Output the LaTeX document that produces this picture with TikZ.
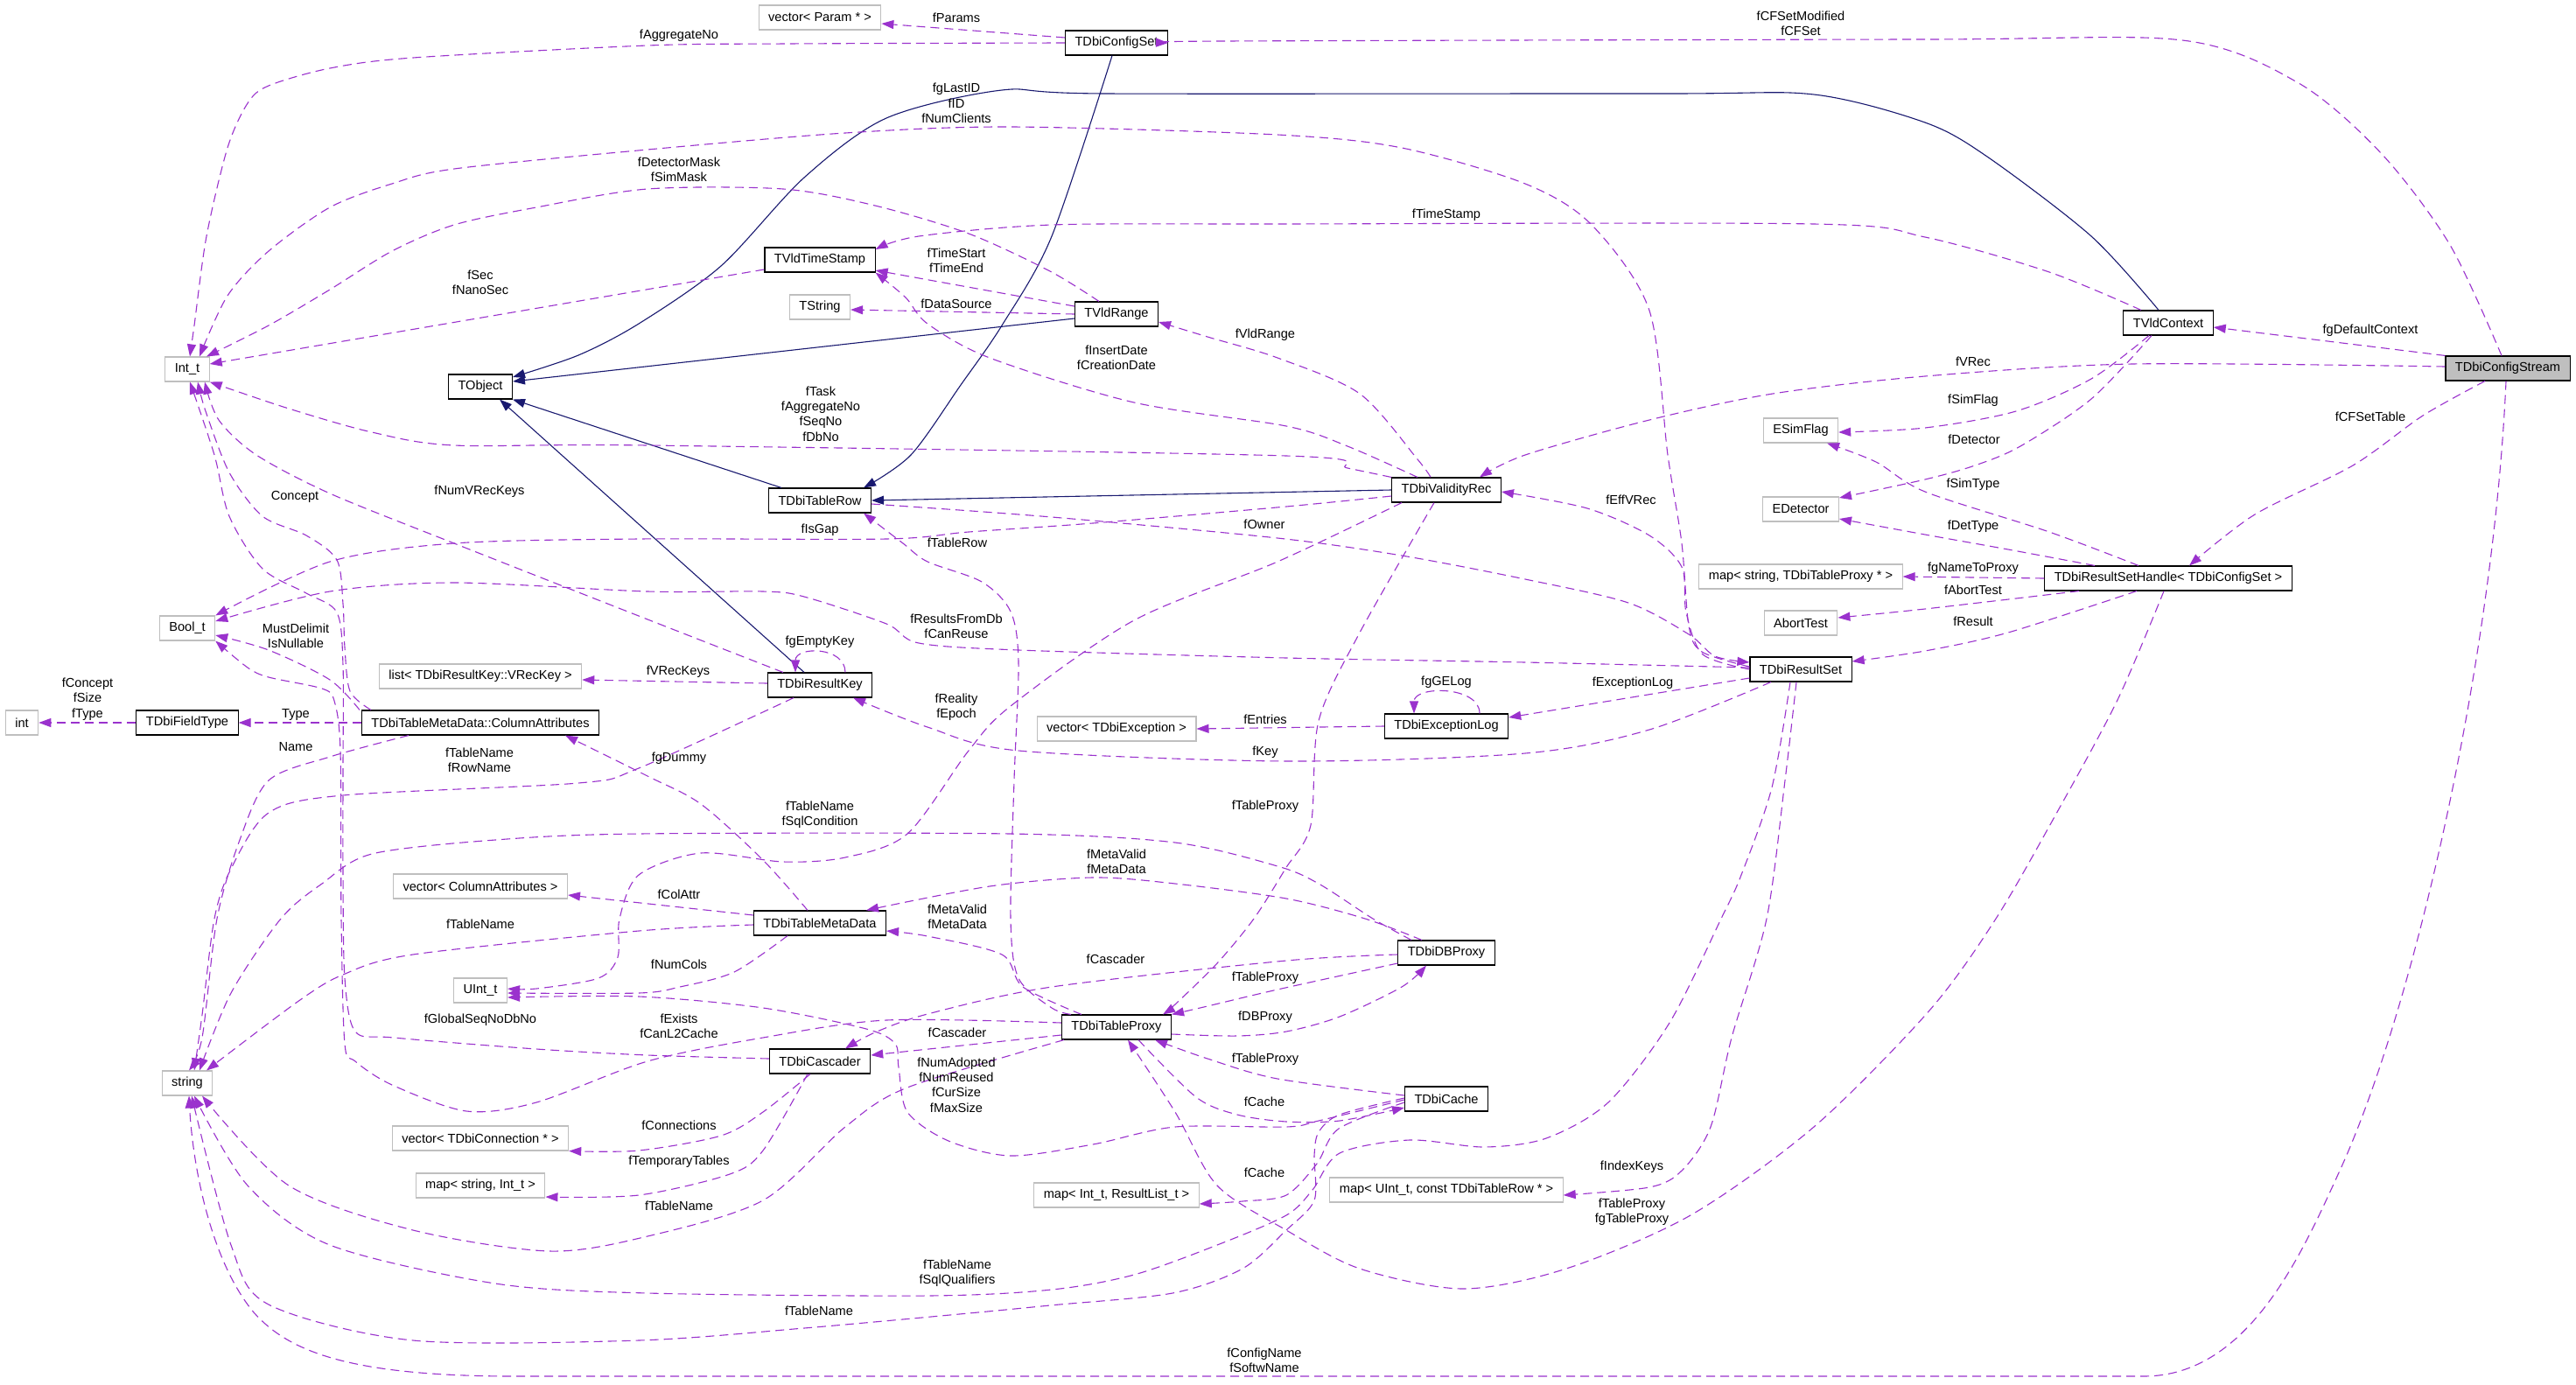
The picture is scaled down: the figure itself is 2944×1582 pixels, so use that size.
\documentclass[tikz,border=0pt]{standalone}
\usepackage{fontspec}
\setmainfont{Liberation Sans}
\usetikzlibrary{arrows.meta}

\definecolor{depcol}{HTML}{9A32CD}
\definecolor{inhcol}{HTML}{191970}
\definecolor{extgray}{HTML}{BFBFBF}

\tikzset{
  cls/.style={draw=black, fill=white, line width=1.1pt, minimum height=28pt, inner xsep=11pt, inner ysep=0pt},
  ext/.style={cls, draw=extgray},
  focus/.style={cls, fill=extgray},
  lbl/.style={align=center, inner sep=0pt},
  dep/.style={draw=depcol, line width=1.1pt, dash pattern=on 10pt off 6pt, -{Triangle[length=14pt,width=10pt]}},
  inh/.style={draw=inhcol, line width=1.1pt, -{Triangle[length=14pt,width=10pt]}},
}

\begin{document}
\begin{tikzpicture}[x=1pt, y=-1pt, every node/.append style={font=\fontsize{14.6}{17.3}\selectfont}]
  \fill[white] (0,0) rectangle (2944,1582);
  \useasboundingbox (0,0) rectangle (2944,1582);

  % documented classes
  \foreach \n/\x/\y/\t in {ConfigSet/1276/49/TDbiConfigSet, TimeStamp/937/297/TVldTimeStamp, VldRange/1276/359/TVldRange,
      VldContext/2478/369/TVldContext, TObject/549/442/TObject, FieldType/214/826/TDbiFieldType,
      ColAttr/549/826/TDbiTableMetaData::ColumnAttributes, TableRow/937/572/TDbiTableRow, ResultKey/937/783/TDbiResultKey,
      MetaData/937/1055/TDbiTableMetaData, ValidityRec/1653/560/TDbiValidityRec, ResultSet/2058/765/TDbiResultSet,
      ExcLog/1653/830/TDbiExceptionLog, RSHandle/2478/661/TDbiResultSetHandle< TDbiConfigSet >, Cascader/937/1213/TDbiCascader,
      TableProxy/1276/1174/TDbiTableProxy, DBProxy/1653/1089/TDbiDBProxy, Cache/1653/1256/TDbiCache}
    \node[cls] (\n) at (\x,\y) {\t};
  \node[focus] (ConfigStream) at (2866,421) {TDbiConfigStream};

  % plain types
  \node[ext] (IntT) at (214,422) {Int\_t};
  \node[ext] (BoolT) at (214,718) {Bool\_t};
  \node[ext] (stringN) at (214,1238) {string};
  \node[ext] (intN) at (25,826) {int};
  \node[ext] (UIntT) at (549,1132) {UInt\_t};
  \node[ext] (TStr) at (937,351) {TString};
  \node[ext] (vecParam) at (937,20) {vector< Param * >};
  \node[ext] (listVRec) at (549,773) {list< TDbiResultKey::VRecKey >};
  \node[ext] (vecColAttr) at (549,1013) {vector< ColumnAttributes >};
  \node[ext] (vecConn) at (549,1301) {vector< TDbiConnection * >};
  \node[ext] (mapStrInt) at (549,1355) {map< string, Int\_t >};
  \node[ext] (vecExc) at (1276,833) {vector< TDbiException >};
  \node[ext] (mapIntRes) at (1276,1366) {map< Int\_t, ResultList\_t >};
  \node[ext] (mapUIntRow) at (1653,1360) {map< UInt\_t, const TDbiTableRow * >};
  \node[ext] (ESimFlag) at (2058,492) {ESimFlag};
  \node[ext] (EDetector) at (2058,582) {EDetector};
  \node[ext] (mapProxy) at (2058,659) {map< string, TDbiTableProxy * >};
  \node[ext] (AbortTest) at (2058,712) {AbortTest};

  % inheritance
  \draw[inh] plot[smooth] coordinates {([xshift=-11pt]VldContext.north) (2390,270) (2271,179) (2200,140) (2073,108) (1900,107) (1263,107) (1145,103) (1013,135) (919,203) (824,304) (730,370) (661,406) ([yshift=11pt]TObject.east)};
  \draw[inh] ([yshift=-5pt]VldRange.west) -- ([yshift=6pt]TObject.east);
  \draw[inh] ([xshift=-44pt]TableRow.north) -- (TObject.south east);
  \draw[inh] ([xshift=-18pt]ResultKey.north) -- ([xshift=22pt]TObject.south);
  \draw[inh] (ValidityRec.west) -- (TableRow.east);
  \draw[inh] plot[smooth] coordinates {([xshift=-5pt]ConfigSet.south) (1202,270) (1145,372) (1098,440) (1041,520) ([xshift=50pt]TableRow.north)};

  % TDbiConfigStream
  \draw[dep] plot[smooth] coordinates {([xshift=-7pt]ConfigStream.north) (2800,280) (2722,176) (2627,95) (2494,46) (2200,45) (1400,47) (ConfigSet.east)};
  \draw[dep] (ConfigStream.north west) -- ([yshift=-5pt]VldContext.east);
  \draw[dep] plot[smooth] coordinates {([yshift=2pt]ConfigStream.west) (2437,416) (2200,430) (2026,450) (1885,480) (1743,520) ([xshift=38pt]ValidityRec.north)};
  \draw[dep] plot[smooth] coordinates {([xshift=-26pt]ConfigStream.south) (2769,475) (2689,532) (2577,588) ([xshift=24pt]RSHandle.north)};
  \draw[dep] ([xshift=-2pt]ConfigStream.south) .. controls (2850,750) and (2760,1150) .. (2674,1338)
    .. controls (2631,1432) and (2570,1573) .. (2450,1573) -- (600,1573)
    .. controls (400,1574) and (330,1545) .. (290,1500) .. controls (240,1440) and (220,1330) .. ([xshift=2pt]stringN.south);

  % TDbiConfigSet
  \draw[dep] ([yshift=6pt]ConfigSet.west) -- ([yshift=-7pt]vecParam.east);
  \draw[dep] plot[smooth] coordinates {(ConfigSet.west) (900,50) (740,52) (472,66) (377,78) (307,98) (283,118) (260,169) (236,270) (222,372) ([xshift=3pt]IntT.north)};

  % TVldContext
  \draw[dep] plot[smooth] coordinates {([xshift=-31pt]VldContext.north) (2342,311) (2200,271) (2073,256) (1460,256) (1202,257) (1050,270) ([yshift=12pt]TimeStamp.east)};
  \draw[dep] plot[smooth] coordinates {([xshift=-22pt]VldContext.south) (2390,433) (2304,470) (2200,489) ([yshift=-2pt]ESimFlag.east)};
  \draw[dep] plot[smooth] coordinates {([xshift=-19pt]VldContext.south) (2390,456) (2309,510) (2257,532) (2200,548) ([yshift=13pt]EDetector.east)};

  % TVldRange, TVldTimeStamp
  \draw[dep] ([yshift=9pt]VldRange.west) -- ([yshift=-12pt]TimeStamp.east);
  \draw[dep] (VldRange.west) -- ([yshift=-3pt]TStr.east);
  \draw[dep] plot[smooth] coordinates {([xshift=-20pt]VldRange.north) (1200,310) (1107,267) (1000,235) (895,216) (740,216) (613,237) (519,257) (448,287) (377,331) (307,372) ([xshift=22pt]IntT.north)};
  \draw[dep] ([yshift=-11pt]TimeStamp.west) -- ([yshift=6pt]IntT.east);

  % TDbiValidityRec
  \draw[dep] plot[smooth] coordinates {([xshift=-33pt]ValidityRec.north) (1540,510) (1470,487) (1296,460) (1131,409) (1060,370) (1035,340) (TimeStamp.south east)};
  \draw[dep] plot[smooth] coordinates {([xshift=-18pt]ValidityRec.north) (1620,525) (1554,450) (1460,409) (1380,385) ([yshift=-9pt]VldRange.east)};
  \draw[dep] plot[smooth] coordinates {(ValidityRec.north west) (1540,535) (1470,521) (740,509) (519,509) (425,494) (330,467) (IntT.south east)};
  \draw[dep] plot[smooth] coordinates {([yshift=-7pt]ValidityRec.west) (1470,579) (1249,598) (1107,608) (1013,616) (730,616) (519,621) (377,642) (BoolT.north east)};
  \draw[dep] plot[smooth] coordinates {([xshift=-51pt]ValidityRec.south) (1460,642) (1296,709) (1155,807) (1107,858) (1037,953) (966,980) (895,985) (801,975) (730,1000) (708,1050) (706,1094) (684,1118) (613,1130) ([yshift=2pt]UIntT.east)};
  \draw[dep] plot[smooth] coordinates {([xshift=-14pt]ValidityRec.south) (1554,723) (1507,824) (1498,943) (1469,993) (1433,1050) (1391,1101) (1343,1148) ([xshift=53pt]TableProxy.north)};

  % TDbiResultSet
  \draw[dep] plot[smooth] coordinates {([yshift=3pt]ResultSet.west) (1945,745) (1930,715) (1922,621) (1906,520) (1885,355) (1819,257) (1743,210) (1602,169) (1460,154) (1155,145) (966,152) (740,171) (519,193) (448,210) (377,237) (307,287) (260,338) ([xshift=14pt]IntT.north)};
  \draw[dep] plot[smooth] coordinates {(ResultSet.west) (1946,748) (1927,700) (1922,648) (1885,612) (1814,581) ([yshift=-2pt]ValidityRec.east)};
  \draw[dep] plot[smooth] coordinates {([yshift=-4pt]TableRow.east) (1202,591) (1460,615) (1602,635) (1743,662) (1861,689) (1930,725) (1960,750) ([yshift=8pt]ResultSet.west)};
  \draw[dep] plot[smooth] coordinates {([yshift=2pt]ResultSet.west) (1743,757) (1470,752) (1164,743) (1050,735) (1013,713) (919,682) (872,676) (740,676) (519,666) (377,676) ([yshift=8pt]BoolT.east)};
  \draw[dep] ([yshift=-10pt]ResultSet.west) -- ([yshift=10pt]ExcLog.east);
  \draw[dep] plot[smooth] coordinates {([xshift=-34pt]ResultSet.south) (1885,834) (1743,861) (1470,870) (1164,858) (1060,831) ([xshift=38pt]ResultKey.south)};
  \draw[dep] plot[smooth] coordinates {([xshift=-5pt]ResultSet.south) (2040,892) (2019,1050) (1979,1186) (1955,1288) (1922,1338) (1885,1357) ([yshift=-6pt]mapUIntRow.east)};
  \draw[dep] plot[smooth] coordinates {([xshift=-12pt]ResultSet.south) (2025,900) (1990,1000) (1967,1050) (1908,1169) (1838,1260) (1767,1301) (1696,1311) (1611,1303) (1531,1318) (1500,1360) (1470,1389) (1391,1423) (1296,1457) (1202,1474) (1060,1481) (740,1478) (566,1467) (377,1423) (283,1355) ([xshift=8pt]stringN.south)};

  % TDbiResultSetHandle
  \draw[dep] plot[smooth] coordinates {([xshift=-36pt]RSHandle.south) (2295,723) (2200,744) ([yshift=9pt]ResultSet.east)};
  \draw[dep] plot[smooth] coordinates {([xshift=-102pt]RSHandle.south) (2200,696) ([yshift=6pt]AbortTest.east)};
  \draw[dep] (RSHandle.west) -- (mapProxy.east);
  \draw[dep] plot[smooth] coordinates {([xshift=-84pt]RSHandle.north) (2295,628) (2200,611) ([yshift=-11pt]EDetector.east)};
  \draw[dep] plot[smooth] coordinates {([xshift=-34pt]RSHandle.north) (2342,608) (2200,562) (2144,528) ([xshift=30pt]ESimFlag.south)};
  \draw[dep] plot[smooth] coordinates {([xshift=-5pt]RSHandle.south) (2420,800) (2350,930) (2281,1050) (2205,1155) (2073,1288) (1932,1389) (1790,1450) (1672,1473) (1554,1450) (1470,1406) (1391,1355) (1343,1271) ([xshift=13pt]TableProxy.south)};

  % TDbiExceptionLog
  \draw[dep] ([xshift=38pt]ExcLog.north) .. controls +(0,-32) and +(0,-32) .. ([xshift=-37pt]ExcLog.north);
  \draw[dep] (ExcLog.west) -- (vecExc.east);

  % TDbiResultKey
  \draw[dep] ([xshift=29pt]ResultKey.north) .. controls +(0,-30) and +(0,-30) .. ([xshift=-28pt]ResultKey.north);
  \draw[dep] ([yshift=2pt]ResultKey.west) -- ([yshift=-4pt]listVRec.east);
  \draw[dep] plot[smooth] coordinates {([xshift=-42pt]ResultKey.north) (730,704) (519,621) (377,564) (293,520) (250,480) ([xshift=20pt]IntT.south)};
  \draw[dep] plot[smooth] coordinates {([xshift=-30pt]ResultKey.south) (730,878) (661,895) (392,909) (307,929) (264,993) (245,1050) (231,1160) ([xshift=8pt]stringN.north)};

  % ColumnAttributes, TDbiFieldType
  \draw[dep] (ColAttr.west) -- (FieldType.east);
  \draw[dep] (FieldType.west) -- (intN.east);
  \draw[dep] plot[smooth] coordinates {([xshift=-82pt]ColAttr.south) (377,865) (307,892) (274,960) (248,1050) (231,1186) ([xshift=2pt]stringN.north)};
  \draw[dep] plot[smooth] coordinates {([xshift=-138pt]ColAttr.north) (377,777) (307,743) ([yshift=-8pt]BoolT.east)};
  \draw[dep] plot[smooth] coordinates {([xshift=-125pt]ColAttr.north) (400,790) (394,740) (392,690) (385,640) (350,612) (300,590) (262,540) (235,470) ([xshift=12pt]IntT.south)};

  % TDbiTableMetaData
  \draw[dep] ([yshift=9pt]MetaData.west) -- ([yshift=-10pt]vecColAttr.east);
  \draw[dep] plot[smooth] coordinates {([xshift=-14pt]MetaData.north) (872,983) (801,919) (740,887) ([xshift=97pt]ColAttr.south)};
  \draw[dep] plot[smooth] coordinates {([yshift=-2pt]MetaData.west) (730,1064) (472,1091) (392,1114) (340,1145) ([xshift=22pt]stringN.north)};
  \draw[dep] plot[smooth] coordinates {([xshift=-37pt]MetaData.south) (839,1111) (777,1128) (730,1135) ([yshift=-3pt]UIntT.east)};

  % TDbiTableProxy
  \draw[dep] plot[smooth] coordinates {([xshift=-52pt]TableProxy.north) (1202,1152) (1164,1118) (1155,1050) (1159,892) (1164,757) (1155,699) (1122,665) (1060,642) (1032,621) ([xshift=50pt]TableRow.south)};
  \draw[dep] plot[smooth] coordinates {([xshift=-40pt]TableProxy.north) (1169,1128) (1145,1091) (1060,1070) ([yshift=-9pt]MetaData.east)};
  \draw[dep] ([yshift=-9pt]TableProxy.west) -- ([yshift=7pt]Cascader.east);
  \draw[dep] plot[smooth] coordinates {([yshift=-8pt]TableProxy.east) (1414,1184) (1470,1179) (1531,1162) (1602,1128) ([xshift=-23pt]DBProxy.south)};
  \draw[dep] plot[smooth] coordinates {([xshift=25pt]TableProxy.south) (1367,1254) (1414,1274) (1470,1282) (1531,1281) ([yshift=-10pt]Cache.west)};
  \draw[dep] plot[smooth] coordinates {([yshift=5pt]TableProxy.west) (1013,1166) (872,1186) (740,1213) (613,1260) (533,1270) (448,1240) (406,1213) (394,1193) (390,1050) (389,858) (382,801) (368,787) (307,774) (283,763) (BoolT.south east)};
  \draw[dep] plot[smooth] coordinates {([xshift=-60pt]TableProxy.south) (1037,1243) (966,1288) (872,1372) (740,1413) (628,1430) (472,1406) (330,1355) ([xshift=17pt]stringN.south)};

  % TDbiDBProxy
  \draw[dep] plot[smooth] coordinates {([xshift=-28pt]DBProxy.north) (1560,1050) (1470,1027) (1343,1010) (1249,1003) (1131,1013) ([xshift=53pt]MetaData.north)};
  \draw[dep] plot[smooth] coordinates {([xshift=-40pt]DBProxy.north) (1569,1050) (1507,1010) (1460,990) (1343,963) (1155,953) (730,953) (566,960) (425,976) (368,1010) (321,1050) (264,1135) ([xshift=14pt]stringN.north)};
  \draw[dep] plot[smooth] coordinates {([yshift=-2pt]DBProxy.west) (1470,1098) (1202,1128) (1060,1159) (1000,1180) ([xshift=29pt]Cascader.north)};
  \draw[dep] plot[smooth] coordinates {([yshift=-12pt]DBProxy.west) (1460,1131) (1380,1150) (TableProxy.north east)};

  % TDbiCache
  \draw[dep] plot[smooth] coordinates {([yshift=4pt]Cache.west) (1460,1233) (1380,1210) ([xshift=44pt]TableProxy.south)};
  \draw[dep] plot[smooth] coordinates {([yshift=-1pt]Cache.west) (1507,1281) (1470,1288) (1343,1288) (1249,1308) (1155,1321) (1084,1304) (1037,1271) (1027,1220) (1023,1193) (990,1176) (872,1152) (730,1139) ([yshift=-8pt]UIntT.east)};
  \draw[dep] plot[smooth] coordinates {([yshift=-4pt]Cache.west) (1530,1290) (1505,1330) (1470,1366) (1420,1373) ([yshift=-10pt]mapIntRes.east)};
  \draw[dep] plot[smooth] coordinates {([yshift=1pt]Cache.west) (1531,1274) (1507,1294) (1502,1321) (1502,1372) (1470,1406) (1420,1450) (1340,1478) (1200,1492) (1107,1501) (919,1518) (730,1532) (472,1532) (307,1491) (264,1423) ([xshift=5pt]stringN.south)};

  % TDbiCascader
  \draw[dep] plot[smooth] coordinates {([yshift=3pt]Cascader.west) (740,1206) (613,1199) (450,1186) (406,1179) (394,1118) (392,1000) (392,880) (392,760) (385,700) (350,678) (300,650) (262,590) (245,520) ([xshift=3pt]IntT.south)};
  \draw[dep] plot[smooth] coordinates {([xshift=-11pt]Cascader.south) (872,1271) (824,1298) (730,1315) (vecConn.south east)};
  \draw[dep] plot[smooth] coordinates {([xshift=-14pt]Cascader.south) (872,1315) (834,1342) (730,1366) ([yshift=-13pt]mapStrInt.east)};

  % edge labels
  \node[lbl] (lParams) at (1093,20) {fParams};
  \node[lbl] (lAggNo) at (776,41) {fAggregateNo};
  \node[lbl] (lCFSet) at (2058,27) {fCFSetModified\\fCFSet};
  \node[lbl] (lLastID) at (1093,118) {fgLastID\\fID\\fNumClients};
  \node[lbl] (lDetMask) at (776,194) {fDetectorMask\\fSimMask};
  \node[lbl] (lTimeStamp) at (1653,246) {fTimeStamp};
  \node[lbl] (lTimeStart) at (1093,298) {fTimeStart\\fTimeEnd};
  \node[lbl] (lSec) at (549,323) {fSec\\fNanoSec};
  \node[lbl] (lDataSource) at (1093,347) {fDataSource};
  \node[lbl] (lDefCtx) at (2709,378) {fgDefaultContext};
  \node[lbl] (lVldRange) at (1446,383) {fVldRange};
  \node[lbl] (lInsert) at (1276,409) {fInsertDate\\fCreationDate};
  \node[lbl] (lVRec) at (2255,413) {fVRec};
  \node[lbl] (lSimFlag) at (2255,458) {fSimFlag};
  \node[lbl] (lTask) at (938,473) {fTask\\fAggregateNo\\fSeqNo\\fDbNo};
  \node[lbl] (lCFSetTable) at (2709,476) {fCFSetTable};
  \node[lbl] (lDetector) at (2256,502) {fDetector};
  \node[lbl] (lSimType) at (2255,554) {fSimType};
  \node[lbl] (lNumVRec) at (548,562) {fNumVRecKeys};
  \node[lbl] (lConcept) at (337,568) {Concept};
  \node[lbl] (lEffVRec) at (1864,571) {fEffVRec};
  \node[lbl] (lOwner) at (1445,599) {fOwner};
  \node[lbl] (lDetType) at (2255,602) {fDetType};
  \node[lbl] (lIsGap) at (937,606) {fIsGap};
  \node[lbl] (lTableRow) at (1094,620) {fTableRow};
  \node[lbl] (lNameToProxy) at (2255,650) {fgNameToProxy};
  \node[lbl] (lAbortTest) at (2255,674) {fAbortTest};
  \node[lbl] (lResult) at (2255,710) {fResult};
  \node[lbl] (lResultsDb) at (1093,716) {fResultsFromDb\\fCanReuse};
  \node[lbl] (lMustDelimit) at (338,727) {MustDelimit\\IsNullable};
  \node[lbl] (lEmptyKey) at (937,734) {fgEmptyKey};
  \node[lbl] (lVRecKeys) at (775,768) {fVRecKeys};
  \node[lbl] (lGELog) at (1653,780) {fgGELog};
  \node[lbl] (lExcLog) at (1866,781) {fExceptionLog};
  \node[lbl] (lFieldType) at (100,799) {fConcept\\fSize\\fType};
  \node[lbl] (lReality) at (1093,808) {fReality\\fEpoch};
  \node[lbl] (lType) at (338,817) {Type};
  \node[lbl] (lEntries) at (1446,822) {fEntries};
  \node[lbl] (lName) at (338,854) {Name};
  \node[lbl] (lKey) at (1446,860) {fKey};
  \node[lbl] (lgDummy) at (776,867) {fgDummy};
  \node[lbl] (lRowName) at (548,869) {fTableName\\fRowName};
  \node[lbl] (lProxyVR) at (1446,922) {fTableProxy};
  \node[lbl] (lSqlCond) at (937,931) {fTableName\\fSqlCondition};
  \node[lbl] (lMetaDB) at (1276,985) {fMetaValid\\fMetaData};
  \node[lbl] (lColAttr) at (776,1022) {fColAttr};
  \node[lbl] (lMetaTP) at (1094,1048) {fMetaValid\\fMetaData};
  \node[lbl] (lNameMD) at (549,1056) {fTableName};
  \node[lbl] (lCascDB) at (1275,1096) {fCascader};
  \node[lbl] (lNumCols) at (776,1102) {fNumCols};
  \node[lbl] (lProxyDB) at (1446,1118) {fTableProxy};
  \node[lbl] (lDBProxy) at (1446,1163) {fDBProxy};
  \node[lbl] (lGlobalSeq) at (549,1166) {fGlobalSeqNoDbNo};
  \node[lbl] (lExists) at (776,1173) {fExists\\fCanL2Cache};
  \node[lbl] (lCascTP) at (1094,1180) {fCascader};
  \node[lbl] (lProxyC) at (1446,1211) {fTableProxy};
  \node[lbl] (lNumAdopted) at (1093,1240) {fNumAdopted\\fNumReused\\fCurSize\\fMaxSize};
  \node[lbl] (lCacheTP) at (1445,1259) {fCache};
  \node[lbl] (lConnections) at (776,1286) {fConnections};
  \node[lbl] (lTempTables) at (776,1328) {fTemporaryTables};
  \node[lbl] (lIndexKeys) at (1865,1334) {fIndexKeys};
  \node[lbl] (lCacheMap) at (1445,1340) {fCache};
  \node[lbl] (lNameTP) at (776,1378) {fTableName};
  \node[lbl] (lProxyRS) at (1865,1385) {fTableProxy\\fgTableProxy};
  \node[lbl] (lSqlQual) at (1094,1455) {fTableName\\fSqlQualifiers};
  \node[lbl] (lNameC) at (936,1498) {fTableName};
  \node[lbl] (lConfigName) at (1445,1555) {fConfigName\\fSoftwName};
\end{tikzpicture}
\end{document}
